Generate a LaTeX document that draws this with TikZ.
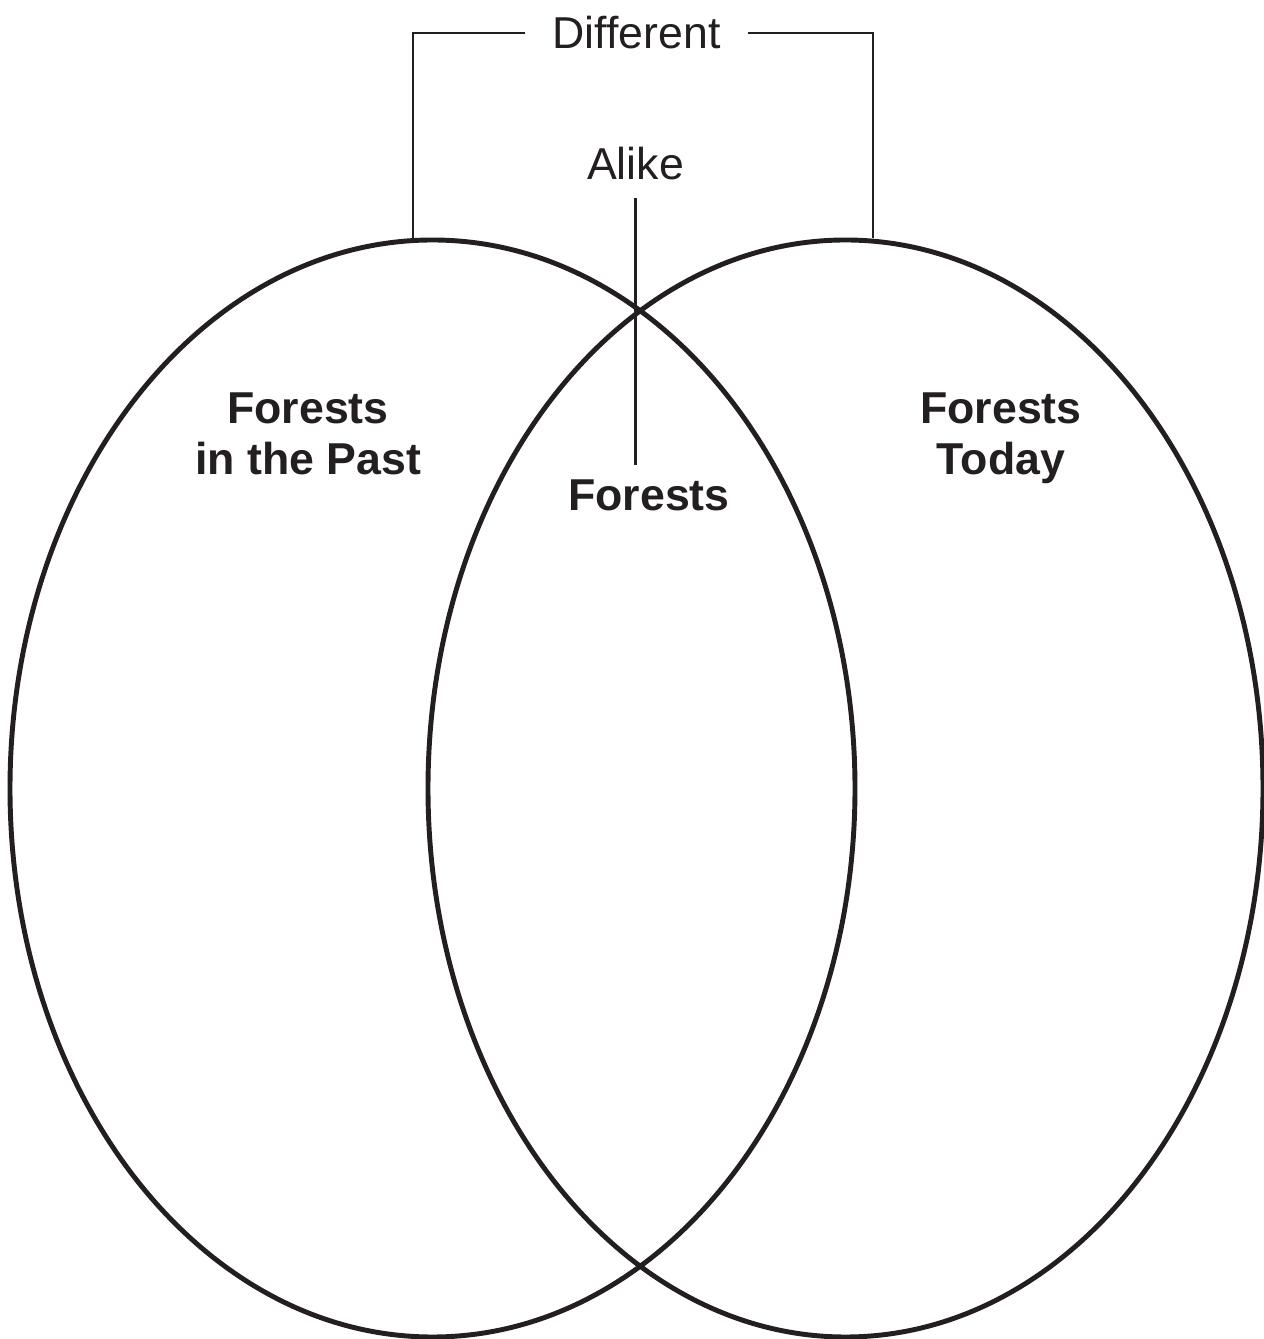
\documentclass[tikz,border=0pt]{standalone}
\usepackage{fontspec}
\setmainfont{Liberation Sans}
\definecolor{ink}{RGB}{35,31,32}
\begin{document}
\begin{tikzpicture}[x=0.01cm, y=0.01cm,
  every node/.style={font=\fontsize{12.7}{14.7}\selectfont, text=ink, inner sep=0pt},
  heading/.style={font=\fontsize{12.7}{14.7}\selectfont\bfseries, align=center}]
  \useasboundingbox (0,0) rectangle (1264,1339);

  % Two overlapping ovals
  \draw[ink, line width=1.4pt] (432.5,550.5) ellipse (422.5 and 548.5);
  \draw[ink, line width=1.4pt] (845.5,550.5) ellipse (417.5 and 548.5);

  % Headings inside the ovals
  \node[heading, anchor=base] (past) at (308,864) {Forests\\in the Past};
  \node[heading, anchor=base] (today) at (1001,864) {Forests\\Today};
  \node[heading, anchor=base, inner ysep=0.15cm] (both) at (649,828) {Forests};

  % Alike marker
  \node[anchor=base, inner sep=0.17cm] (alike) at (635.5,1159) {Alike};
  \draw[ink, line width=0.8pt] (alike.south) -- (alike.south |- both.north);

  % Different bracket
  \node[anchor=base, inner xsep=0.27cm] (diff) at (636.5,1290) {Different};
  \coordinate (pasttop) at (413,1099);
  \coordinate (todaytop) at (873,1101);
  \draw[ink, line width=0.6pt] (diff.west) -| (pasttop);
  \draw[ink, line width=0.6pt] (diff.east) -| (todaytop);
\end{tikzpicture}
\end{document}
